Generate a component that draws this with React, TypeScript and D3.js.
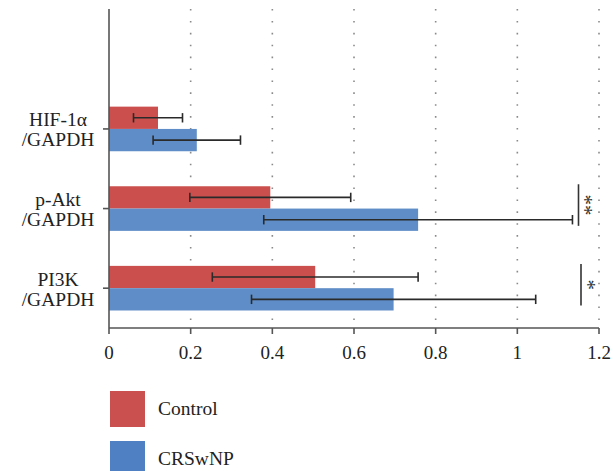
import React, { useEffect, useRef } from 'react';
import * as d3 from 'd3';

// categories, top to bottom (first band is left empty in the original)
const categories = ['HIF-1α', 'p-Akt', 'PI3K'];
const categoryLines = [['HIF-1α', '/GAPDH'], ['p-Akt', '/GAPDH'], ['PI3K', '/GAPDH']];
const seriesNames = ['Control', 'CRSwNP'];

const controlMeans = [0.12, 0.395, 0.505];
const controlErrors = [0.06, 0.197, 0.252];
const crswnpMeans = [0.215, 0.757, 0.697];
const crswnpErrors = [0.107, 0.378, 0.348];

const xTicks = [0, 0.2, 0.4, 0.6, 0.8, 1, 1.2];
const xTickLabels = ['0', '0.2', '0.4', '0.6', '0.8', '1', '1.2'];

// significance marks: category, label
const sigMarks = [
  { cat: 'p-Akt', label: '**' },
  { cat: 'PI3K', label: '*' },
];

const W = 613;
const H = 471;
const FONT = "'Liberation Serif', 'DejaVu Serif', serif";

const App: React.FC = () => {
  const svgRef = useRef<SVGSVGElement>(null);

  useEffect(() => {
    if (!svgRef.current) return;
    const svg = d3.select(svgRef.current);
    svg.selectAll('*').remove();

    const colors = { Control: '#CB504D', CRSwNP: '#5F8DC7' };
    const legendColors = { Control: '#C9504E', CRSwNP: '#4F80C3' };

    const x = d3.scaleLinear().domain([0, 1.2]).range([109, 599]);
    const y = d3.scaleBand<string>()
      .domain(['', ...categories])
      .range([9.5, 328])
      .padding(0);
    const sub = d3.scaleBand<string>()
      .domain(seriesNames)
      .range([0, y.bandwidth()])
      .paddingInner(0)
      .paddingOuter(0.785);

    // vertical dotted gridlines
    svg.append('g')
      .selectAll('line')
      .data(xTicks.slice(1))
      .enter()
      .append('line')
      .attr('x1', d => x(d)).attr('x2', d => x(d))
      .attr('y1', 9).attr('y2', 328)
      .attr('stroke', '#8a8a8a')
      .attr('stroke-width', 1.6)
      .attr('stroke-dasharray', '1.6,10.3');

    const rows = categories.map((c, i) => ({
      cat: c,
      vals: [
        { key: 'Control', mean: controlMeans[i], err: controlErrors[i] },
        { key: 'CRSwNP', mean: crswnpMeans[i], err: crswnpErrors[i] },
      ],
    }));

    const groups = svg.append('g')
      .selectAll('g')
      .data(rows)
      .enter()
      .append('g')
      .attr('transform', d => `translate(0, ${y(d.cat)})`);

    groups.selectAll('rect')
      .data(d => d.vals)
      .enter()
      .append('rect')
      .attr('x', x(0))
      .attr('y', d => sub(d.key)!)
      .attr('width', d => x(d.mean) - x(0))
      .attr('height', sub.bandwidth())
      .attr('fill', d => colors[d.key as keyof typeof colors]);

    // error bars
    const eb = groups.selectAll('g.eb')
      .data(d => d.vals)
      .enter()
      .append('g')
      .attr('class', 'eb')
      .attr('stroke', '#2a2a2a')
      .attr('stroke-width', 1.6);
    const cy = (d: { key: string }) => sub(d.key)! + sub.bandwidth() / 2;
    eb.append('line')
      .attr('x1', d => x(d.mean - d.err)).attr('x2', d => x(d.mean + d.err))
      .attr('y1', cy).attr('y2', cy);
    eb.append('line')
      .attr('x1', d => x(d.mean - d.err)).attr('x2', d => x(d.mean - d.err))
      .attr('y1', d => cy(d) - 4.7).attr('y2', d => cy(d) + 4.7);
    eb.append('line')
      .attr('x1', d => x(d.mean + d.err)).attr('x2', d => x(d.mean + d.err))
      .attr('y1', d => cy(d) - 4.7).attr('y2', d => cy(d) + 4.7);

    // axes
    svg.append('line')
      .attr('x1', x(0)).attr('x2', x(0))
      .attr('y1', 9).attr('y2', 328)
      .attr('stroke', '#555').attr('stroke-width', 1.6);
    svg.append('line')
      .attr('x1', x(0)).attr('x2', x(1.2))
      .attr('y1', 328).attr('y2', 328)
      .attr('stroke', '#555').attr('stroke-width', 1.6);
    svg.append('g')
      .selectAll('line')
      .data(xTicks)
      .enter()
      .append('line')
      .attr('x1', d => x(d)).attr('x2', d => x(d))
      .attr('y1', 328).attr('y2', 334)
      .attr('stroke', '#555').attr('stroke-width', 1.6);
    svg.append('g')
      .selectAll('text')
      .data(xTicks)
      .enter()
      .append('text')
      .attr('x', d => x(d))
      .attr('y', 359)
      .attr('text-anchor', 'middle')
      .attr('font-family', FONT)
      .attr('font-size', 19)
      .attr('fill', '#222')
      .text((_, i) => xTickLabels[i]);

    // y ticks and category labels
    categories.forEach((c, i) => {
      const cyc = y(c)! + y.bandwidth() / 2;
      svg.append('line')
        .attr('x1', x(0) - 6).attr('x2', x(0))
        .attr('y1', cyc).attr('y2', cyc)
        .attr('stroke', '#555').attr('stroke-width', 1.6);
      const t = svg.append('text')
        .attr('text-anchor', 'middle')
        .attr('font-family', FONT)
        .attr('font-size', 19.5)
        .attr('fill', '#222');
      categoryLines[i].forEach((ln, j) => {
        t.append('tspan')
          .attr('x', 58)
          .attr('y', cyc - 2.5 + j * 20)
          .text(ln);
      });
    });

    // significance brackets (stars are written sideways, as in the original)
    const starSize = 21;
    sigMarks.forEach(m => {
      const top = y(m.cat)! + sub('Control')! - 2;
      const bot = y(m.cat)! + sub('CRSwNP')! + sub.bandwidth() - 5;
      const lx = m.label === '**' ? 578.5 : 581;
      svg.append('line')
        .attr('x1', lx).attr('x2', lx)
        .attr('y1', top).attr('y2', bot)
        .attr('stroke', '#333').attr('stroke-width', 1.6);
      const cyc = (top + bot) / 2;
      const cx = lx + 10;
      svg.append('text')
        .attr('transform', `translate(${cx - 0.48 * starSize}, ${cyc}) rotate(90)`)
        .attr('text-anchor', 'middle')
        .attr('font-family', FONT)
        .attr('font-size', starSize)
        .attr('fill', '#333')
        .text(m.label);
    });

    // legend
    const legend = svg.append('g')
      .selectAll('g')
      .data(seriesNames)
      .enter()
      .append('g')
      .attr('transform', (_, i) => `translate(110, ${391 + i * 50})`);
    legend.append('rect')
      .attr('width', 35).attr('height', 36)
      .attr('fill', d => legendColors[d as keyof typeof legendColors]);
    legend.append('text')
      .attr('x', 48)
      .attr('y', 24)
      .attr('font-family', FONT)
      .attr('font-size', 19.5)
      .attr('fill', '#222')
      .text(d => d);
  }, []);

  return (
    <svg
      ref={svgRef}
      width={W}
      height={H}
      viewBox={`0 0 ${W} ${H}`}
      style={{ position: 'absolute', left: 0, top: 0, background: '#fff' }}
    />
  );
};

export default App;
